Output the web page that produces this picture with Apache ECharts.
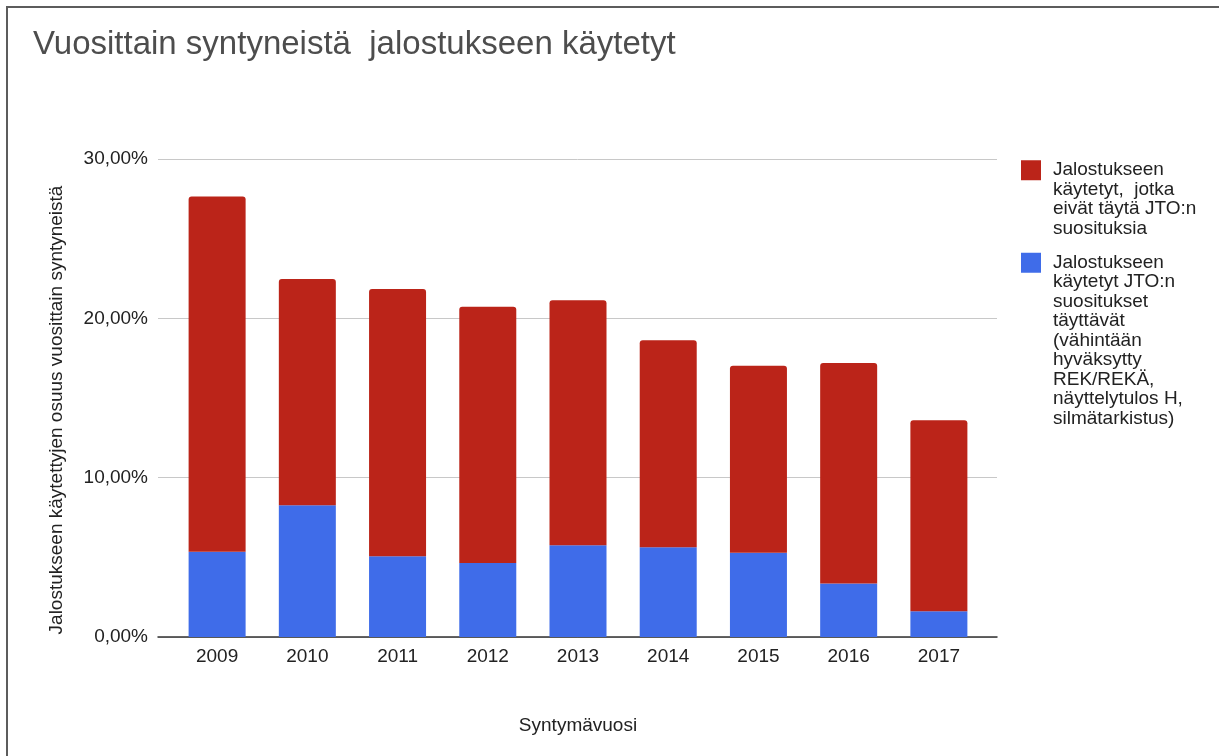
<!DOCTYPE html>
<html>
<head>
<meta charset="utf-8">
<title>Vuosittain syntyneistä jalostukseen käytetyt</title>
<script src="https://cdn.jsdelivr.net/npm/echarts@6/dist/echarts.min.js"></script>
<style>
    html, body { margin: 0; padding: 0; background: #fff; }
    #chart { width: 1219px; height: 756px; }
</style>
</head>
<body>
<div id="chart"></div>
<script>
// data (percent of dogs born each year)
const years = ['2009', '2010', '2011', '2012', '2013', '2014', '2015', '2016', '2017'];
// blue: fulfils JTO recommendations
const metValues = [5.35, 8.27, 5.07, 4.65, 5.76, 5.63, 5.28, 3.36, 1.62];
// red: does not fulfil them (stacked on top)
const notMetValues = [22.30, 14.20, 16.77, 16.07, 15.37, 12.99, 11.75, 13.84, 11.98];
const yTicks = [0, 10, 20, 30];

const notMetName = 'Jalostukseen\nkäytetyt,  jotka\neivät täytä JTO:n\nsuosituksia';
const metName = 'Jalostukseen\nkäytetyt JTO:n\nsuositukset\ntäyttävät\n(vähintään\nhyväksytty\nREK/REKÄ,\nnäyttelytulos H,\nsilmätarkistus)';

const font = '"Liberation Sans", Arial, sans-serif';
const lineH = 19.5;

// legend text is centred on the icon, so pad with empty lines on top
// to get the first line next to the icon
const topAligned = (name) => '\n'.repeat(name.split('\n').length - 1) + name;

const pct = (v) => v.toFixed(2).replace('.', ',') + '%';

const chart = echarts.init(document.getElementById('chart'));

const legendBase = {
    orient: 'vertical',
    left: 1021,
    padding: 0,
    icon: 'rect',
    itemWidth: 20,
    itemHeight: 20,
    formatter: topAligned,
    textStyle: { fontFamily: font, fontSize: 19, color: '#222', lineHeight: lineH, padding: [0, 0, 0, 7] }
};

const option = {
    backgroundColor: '#ffffff',
    animation: false,
    textStyle: { fontFamily: font },
    title: {
        text: 'Vuosittain syntyneistä  jalostukseen käytetyt',
        left: 28,
        top: 23,
        textStyle: { fontFamily: font, fontSize: 33, fontWeight: 'normal', color: '#4d4d4d' }
    },
    legend: [
        Object.assign({}, legendBase, { data: [notMetName], top: 102 }),
        Object.assign({}, legendBase, { data: [metName], top: 97 })
    ],
    grid: [
        // bars
        { left: 172, right: 235, top: 159, bottom: 119, outerBoundsMode: 'none' },
        // gridlines / axis frame (a bit wider than the bars)
        { left: 158, right: 222, top: 159, bottom: 119, outerBoundsMode: 'none' }
    ],
    xAxis: [
        {
            type: 'category',
            gridIndex: 0,
            data: years,
            axisLine: { show: false },
            axisTick: { show: false },
            axisLabel: { fontFamily: font, fontSize: 19, color: '#222', margin: 10 },
            name: 'Syntymävuosi',
            nameLocation: 'middle',
            nameGap: 79,
            nameTextStyle: { fontFamily: font, fontSize: 19, color: '#222' }
        },
        {
            type: 'category',
            gridIndex: 1,
            data: years,
            axisLine: { show: true, lineStyle: { color: '#333', width: 1.5 } },
            axisTick: { show: false },
            axisLabel: { show: false }
        }
    ],
    yAxis: [
        {
            type: 'value',
            gridIndex: 0,
            min: yTicks[0],
            max: yTicks[yTicks.length - 1],
            interval: yTicks[1] - yTicks[0],
            show: false
        },
        {
            type: 'value',
            gridIndex: 1,
            min: yTicks[0],
            max: yTicks[yTicks.length - 1],
            interval: yTicks[1] - yTicks[0],
            axisLine: { show: false },
            axisTick: { show: false },
            splitLine: { show: true, lineStyle: { color: '#c8c8c8', width: 1 } },
            axisLabel: { fontFamily: font, fontSize: 19, color: '#222', margin: 10, formatter: pct },
            name: 'Jalostukseen käytettyjen osuus vuosittain syntyneistä',
            nameLocation: 'middle',
            nameGap: 92,
            nameTextStyle: { fontFamily: font, fontSize: 19, color: '#222', padding: [0, 24, 0, 0] }
        }
    ],
    series: [
        {
            name: metName,
            type: 'bar',
            stack: 'total',
            xAxisIndex: 0,
            yAxisIndex: 0,
            barWidth: 57,
            itemStyle: { color: '#3f6ce9' },
            data: metValues
        },
        {
            name: notMetName,
            type: 'bar',
            stack: 'total',
            xAxisIndex: 0,
            yAxisIndex: 0,
            barWidth: 57,
            itemStyle: { color: '#bb2419', borderRadius: [3, 3, 0, 0] },
            data: notMetValues
        }
    ],
    graphic: [
        // frame of the original screenshot
        { type: 'line', shape: { x1: 6, y1: 7, x2: 1219, y2: 7 }, style: { stroke: '#5c5c5c', lineWidth: 2 } },
        { type: 'line', shape: { x1: 7, y1: 6, x2: 7, y2: 756 }, style: { stroke: '#5c5c5c', lineWidth: 2 } }
    ]
};

chart.setOption(option);
</script>
</body>
</html>
